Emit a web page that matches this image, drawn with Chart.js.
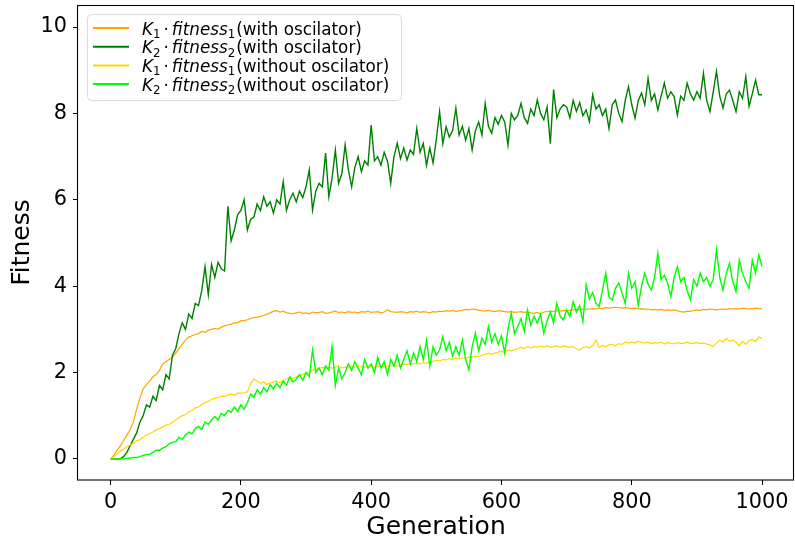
<!DOCTYPE html>
<html>
<head>
<meta charset="utf-8">
<script src="https://cdn.jsdelivr.net/npm/chart.js@4.4.1/dist/chart.umd.min.js"></script>
<style>
  html, body { margin: 0; padding: 0; background: #fff; }
  #wrap { width: 795px; height: 542px; }
</style>
</head>
<body>
<div id="wrap"><canvas id="chart" width="795" height="542"></canvas></div>
<script>
// one value every 5 generations, 0..1000
const STEP = 5;

const k1WithOsc = [
  0, 0.08, 0.2, 0.3, 0.42, 0.55, 0.68, 0.85, 1.15, 1.4, 1.62, 1.72, 1.8, 1.9, 1.95, 2.05, 2.2, 2.25, 2.3, 2.35,
  2.45, 2.55, 2.65, 2.75, 2.82, 2.85, 2.88, 2.9, 2.95, 2.93, 2.98, 3.0, 3.02, 3.0, 3.05, 3.08, 3.1, 3.12, 3.15, 3.15,
  3.2, 3.2, 3.22, 3.25, 3.27, 3.28, 3.3, 3.32, 3.35, 3.38, 3.42, 3.43, 3.4, 3.42, 3.38, 3.37, 3.36, 3.38, 3.4, 3.37,
  3.38, 3.36, 3.4, 3.38, 3.39, 3.41, 3.37, 3.38, 3.4, 3.42, 3.39, 3.4, 3.38, 3.41, 3.39, 3.4, 3.38, 3.41, 3.4, 3.42,
  3.39, 3.4, 3.41, 3.38, 3.4, 3.45, 3.41, 3.4, 3.39, 3.41, 3.4, 3.38, 3.41, 3.4, 3.42, 3.39, 3.41, 3.4, 3.38, 3.41,
  3.4, 3.42, 3.41, 3.43, 3.42, 3.44, 3.41, 3.43, 3.44, 3.46, 3.45, 3.47, 3.46, 3.44, 3.43, 3.42, 3.44, 3.42, 3.41, 3.43,
  3.42, 3.41, 3.4, 3.41, 3.39, 3.4, 3.41, 3.39, 3.4, 3.38, 3.37, 3.39, 3.36, 3.4, 3.41, 3.42, 3.41, 3.43, 3.42, 3.44,
  3.43, 3.44, 3.45, 3.46, 3.45, 3.47, 3.46, 3.47, 3.48, 3.47, 3.49, 3.48, 3.5, 3.49, 3.5, 3.51, 3.5, 3.49, 3.5, 3.49,
  3.48, 3.49, 3.47, 3.48, 3.46, 3.47, 3.45, 3.46, 3.45, 3.46, 3.44, 3.45, 3.44, 3.45, 3.43, 3.41, 3.4, 3.42, 3.41, 3.44,
  3.45, 3.44, 3.46, 3.45, 3.47, 3.46, 3.45, 3.46, 3.47, 3.46, 3.48, 3.47, 3.48, 3.47, 3.49, 3.48, 3.47, 3.48, 3.49, 3.48,
  3.48
];

const k2WithOsc = [
  0, 0, 0, 0, 0.05, 0.15, 0.3, 0.45, 0.6, 0.85, 1.0, 1.25, 1.2, 1.45, 1.35, 1.7, 1.6, 1.95, 1.85, 2.4,
  2.55, 2.9, 3.15, 3.0, 3.35, 3.25, 3.6, 3.55, 3.9, 4.45, 3.8, 4.5, 4.2, 4.55, 4.4, 4.35, 5.85, 5.05, 5.3, 5.65,
  5.75, 6.0, 5.3, 5.55, 5.6, 5.9, 5.75, 6.07, 5.85, 5.95, 5.69, 6.0, 5.9, 6.42, 5.76, 6.0, 6.15, 5.95, 6.2, 6.05,
  6.3, 6.69, 5.76, 6.2, 6.38, 6.3, 7.08, 6.07, 6.5, 7.15, 6.38, 6.6, 7.27, 6.7, 6.3, 6.75, 7.0, 6.65, 6.9, 6.8,
  7.73, 6.9, 7.0, 6.8, 7.1, 6.9, 6.38, 7.0, 7.31, 6.95, 7.2, 6.92, 7.15, 7.05, 7.65, 7.1, 7.3, 6.8, 7.2, 6.85,
  7.4, 8.04, 7.3, 7.69, 7.45, 7.6, 8.12, 7.5, 7.7, 7.38, 7.65, 7.15, 7.6, 7.8, 7.5, 8.23, 7.7, 7.54, 7.9, 7.75,
  7.95, 7.8, 7.27, 8.0, 7.85, 7.95, 8.23, 7.9, 7.77, 8.1, 7.95, 8.31, 8.0, 7.85, 8.15, 7.3, 8.55, 7.9, 8.1, 8.2,
  8.15, 7.9, 8.3, 8.05, 8.25, 7.95, 8.08, 7.81, 8.43, 8.1, 8.2, 7.95, 8.1, 7.65, 8.2, 8.31, 8.0, 7.81, 8.3, 8.62,
  8.2, 7.89, 8.3, 8.47, 8.2, 8.81, 8.3, 8.45, 8.08, 8.4, 8.7, 8.35, 8.5, 8.39, 7.96, 8.4, 8.3, 8.7, 8.45, 8.31,
  8.5, 8.35, 8.93, 8.3, 8.04, 8.5, 8.97, 8.4, 8.12, 8.45, 8.54, 8.3, 8.04, 8.5, 8.35, 8.85, 8.16, 8.45, 8.77, 8.43,
  8.43
];

const k1WithoutOsc = [
  0, 0.05, 0.12, 0.18, 0.22, 0.28, 0.32, 0.36, 0.42, 0.44, 0.5, 0.55, 0.58, 0.62, 0.67, 0.7, 0.74, 0.78, 0.8, 0.85,
  0.9, 0.95, 1.0, 1.02, 1.09, 1.12, 1.18, 1.2, 1.26, 1.3, 1.33, 1.38, 1.4, 1.42, 1.45, 1.44, 1.48, 1.5, 1.47, 1.52,
  1.52, 1.53, 1.55, 1.75, 1.85, 1.8, 1.75, 1.78, 1.72, 1.76, 1.78, 1.8, 1.76, 1.82, 1.85, 1.88, 1.86, 1.9, 1.92, 1.95,
  1.98, 2.0, 2.05, 2.08, 2.1, 2.12, 2.1, 2.13, 2.1, 2.12, 2.15, 2.1, 2.13, 2.1, 2.14, 2.12, 2.15, 2.13, 2.12, 2.14,
  2.13, 2.12, 2.14, 2.13, 2.16, 2.14, 2.15, 2.17, 2.15, 2.18, 2.2, 2.18, 2.21, 2.2, 2.22, 2.2, 2.23, 2.21, 2.24, 2.26,
  2.28, 2.27, 2.3, 2.29, 2.32, 2.3, 2.33, 2.31, 2.34, 2.33, 2.36, 2.35, 2.38, 2.37, 2.4, 2.42, 2.44, 2.42, 2.45, 2.47,
  2.5, 2.45, 2.52, 2.5, 2.53, 2.55, 2.58, 2.56, 2.6, 2.57, 2.6, 2.58, 2.61, 2.59, 2.62, 2.58, 2.6, 2.62, 2.58, 2.61,
  2.6, 2.58, 2.6, 2.55, 2.52, 2.58, 2.6, 2.57, 2.62, 2.75, 2.58, 2.62, 2.6, 2.64, 2.65, 2.62, 2.67, 2.65, 2.7, 2.68,
  2.71, 2.68, 2.72, 2.7, 2.68, 2.7, 2.67, 2.69, 2.68, 2.7, 2.66, 2.69, 2.68, 2.66, 2.69, 2.67, 2.68, 2.7, 2.67, 2.68,
  2.69, 2.67, 2.68, 2.66, 2.64, 2.6, 2.68, 2.75, 2.7, 2.79, 2.72, 2.75, 2.7, 2.62, 2.72, 2.65, 2.74, 2.76, 2.72, 2.82,
  2.79
];

const k2WithoutOsc = [
  0, 0, 0, 0, 0, 0.01, 0.02, 0.03, 0.03, 0.05, 0.08, 0.1, 0.1, 0.15, 0.2, 0.2, 0.25, 0.28, 0.35, 0.38,
  0.4, 0.5, 0.45, 0.55, 0.62, 0.58, 0.7, 0.75, 0.68, 0.85, 0.8, 0.9, 0.98, 0.9, 1.05, 1.0, 1.12, 1.08, 1.2, 1.1,
  1.25, 1.15, 1.3, 1.5, 1.42, 1.6, 1.5, 1.65, 1.55, 1.72, 1.62, 1.75, 1.65, 1.8, 1.7, 1.9, 1.78, 1.85, 1.95, 1.82,
  2.0, 1.9, 2.52, 2.0, 2.1, 1.95, 2.15, 2.05, 2.6, 1.7, 2.1, 1.85, 2.0, 2.2, 2.05, 2.25, 2.1, 1.95, 2.3, 2.1,
  2.2, 2.0, 2.35, 2.1, 2.25, 1.95, 2.3, 2.15, 2.4, 2.1, 2.3, 2.5, 2.2, 2.45, 2.25, 2.6, 2.3, 2.75, 2.15, 2.6,
  2.4, 2.52, 2.83, 2.5, 2.7, 2.37, 2.6, 2.4, 2.75, 2.3, 2.06, 2.6, 2.91, 2.5, 2.8, 2.65, 3.06, 2.7, 2.9, 2.65,
  2.85, 2.45, 3.0, 3.37, 2.9, 3.06, 3.25, 2.95, 3.45, 3.1, 3.3, 3.14, 3.35, 2.91, 3.2, 3.4, 3.15, 3.6, 3.3, 3.22,
  3.45, 3.3, 3.64, 3.4, 3.55, 3.18, 4.03, 3.7, 3.85, 3.6, 3.53, 3.9, 4.3, 3.75, 3.68, 3.95, 4.07, 3.85, 3.6, 4.3,
  3.95, 4.1, 3.56, 4.0, 4.3, 4.05, 3.91, 4.2, 4.76, 4.15, 4.25, 4.07, 3.76, 4.2, 4.45, 4.1, 4.2, 3.9, 3.68, 4.15,
  4.0, 4.3, 4.1, 4.2, 3.99, 4.15, 4.84, 4.2, 3.91, 4.3, 4.53, 4.1, 3.87, 4.6, 4.3, 4.1, 3.95, 4.6, 4.3, 4.72,
  4.45
];

const xTicks = [0, 200, 400, 600, 800, 1000];
const yTicks = [0, 2, 4, 6, 8, 10];

const legendRows = [
  { color: 'orange', sub: '1', tail: '(with oscilator)' },
  { color: 'green', sub: '2', tail: '(with oscilator)' },
  { color: 'gold', sub: '1', tail: '(without oscilator)' },
  { color: 'lime', sub: '2', tail: '(without oscilator)' },
];

const FONT = '"DejaVu Sans", sans-serif';

function toPoints(values) {
  return values.map((v, i) => ({ x: i * STEP, y: v }));
}

function makeSet(label, values, color, order, width) {
  return {
    label: label,
    data: toPoints(values),
    borderColor: color,
    backgroundColor: color,
    borderWidth: width,
    pointRadius: 0,
    tension: 0,
    fill: false,
    order: order,
  };
}

// frame round the plot and the mathtext style legend
const framePlugin = {
  id: 'frame',
  afterDraw(chart) {
    const { ctx, chartArea: a } = chart;
    ctx.save();
    ctx.strokeStyle = '#000';
    ctx.lineWidth = 1.1;
    ctx.strokeRect(Math.round(a.left) - 0.5, Math.round(a.top) + 0.5,
      Math.round(a.right - a.left), Math.round(a.bottom - a.top) - 0.5);

    // legend box
    const bx = 87.5, by = 14.5, bw = 314, bh = 86, r = 4;
    ctx.beginPath();
    ctx.moveTo(bx + r, by);
    ctx.arcTo(bx + bw, by, bx + bw, by + bh, r);
    ctx.arcTo(bx + bw, by + bh, bx, by + bh, r);
    ctx.arcTo(bx, by + bh, bx, by, r);
    ctx.arcTo(bx, by, bx + bw, by, r);
    ctx.closePath();
    ctx.fillStyle = 'rgba(255,255,255,0.8)';
    ctx.fill();
    ctx.strokeStyle = '#dcdcdc';
    ctx.lineWidth = 1;
    ctx.stroke();

    const fs = 16.8;
    legendRows.forEach((row, i) => {
      const ly = 28 + i * 18.7;
      ctx.strokeStyle = row.color;
      ctx.lineWidth = 2;
      ctx.beginPath();
      ctx.moveTo(93, ly);
      ctx.lineTo(129, ly);
      ctx.stroke();

      const base = ly + 6.5;
      let x = 142;
      ctx.fillStyle = '#000';
      ctx.textBaseline = 'alphabetic';
      ctx.textAlign = 'left';

      ctx.font = 'italic ' + fs + 'px ' + FONT;
      ctx.fillText('K', x, base);
      x += ctx.measureText('K').width;
      ctx.font = (fs * 0.7).toFixed(1) + 'px ' + FONT;
      ctx.fillText(row.sub, x, base + 3.5);
      x += ctx.measureText(row.sub).width + 3;
      ctx.font = fs + 'px ' + FONT;
      ctx.fillText('\u00b7', x, base);
      x += ctx.measureText('\u00b7').width + 3;
      ctx.font = 'italic ' + fs + 'px ' + FONT;
      ctx.fillText('fitness', x, base);
      x += ctx.measureText('fitness').width;
      ctx.font = (fs * 0.7).toFixed(1) + 'px ' + FONT;
      ctx.fillText(row.sub, x, base + 3.5);
      x += ctx.measureText(row.sub).width + 1;
      ctx.font = fs + 'px ' + FONT;
      ctx.fillText(row.tail, x, base);
    });
    ctx.restore();
  }
};

new Chart(document.getElementById('chart'), {
  type: 'line',
  data: {
    datasets: [
      makeSet('K1 fitness1 (with oscilator)', k1WithOsc, 'orange', 4, 1.2),
      makeSet('K2 fitness2 (with oscilator)', k2WithOsc, 'green', 3, 1.4),
      makeSet('K1 fitness1 (without oscilator)', k1WithoutOsc, 'gold', 2, 1.2),
      makeSet('K2 fitness2 (without oscilator)', k2WithoutOsc, 'lime', 1, 1.4),
    ],
  },
  options: {
    responsive: false,
    animation: false,
    devicePixelRatio: 1,
    layout: { padding: { left: 0, top: 5, right: 1, bottom: 0 } },
    plugins: {
      legend: { display: false },
      tooltip: { enabled: false },
    },
    scales: {
      x: {
        type: 'linear',
        min: -50,
        max: 1049,
        afterBuildTicks: (axis) => { axis.ticks = xTicks.map(v => ({ value: v })); },
        afterFit: (axis) => {
          axis.height = 62;
          axis.paddingLeft = 0;
          axis.paddingRight = 0;
        },
        grid: { drawOnChartArea: false, drawTicks: true, tickLength: 5, tickColor: '#000', tickWidth: 1 },
        border: { display: false },
        ticks: {
          color: '#000', font: { family: FONT, size: 20.8 }, padding: 5, maxRotation: 0, autoSkip: false,
          callback: (v) => String(v),
        },
        title: { display: true, text: 'Generation', color: '#000', font: { family: FONT, size: 25, lineHeight: 1 }, padding: { top: 0, bottom: 2 } },
      },
      y: {
        type: 'linear',
        min: -0.49,
        max: 10.51,
        afterBuildTicks: (axis) => { axis.ticks = yTicks.map(v => ({ value: v })); },
        afterFit: (axis) => {
          axis.width = 78;
          axis.paddingTop = 0;
          axis.paddingBottom = 0;
        },
        grid: { drawOnChartArea: false, drawTicks: true, tickLength: 5, tickColor: '#000', tickWidth: 1 },
        border: { display: false },
        ticks: { color: '#000', font: { family: FONT, size: 20.8 }, padding: 6, autoSkip: false, callback: (v) => String(v) },
        title: { display: true, text: 'Fitness', color: '#000', font: { family: FONT, size: 25, lineHeight: 1 }, padding: { top: 10, bottom: 0 } },
      },
    },
  },
  plugins: [framePlugin],
});
</script>
</body>
</html>
